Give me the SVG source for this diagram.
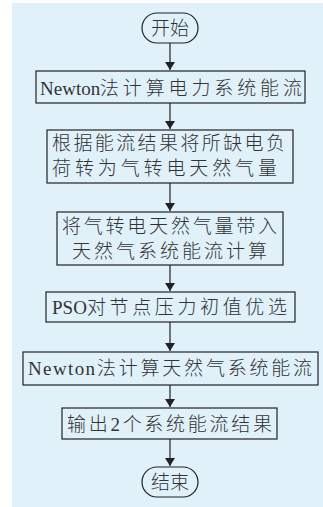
<svg xmlns="http://www.w3.org/2000/svg" width="323" height="507" viewBox="0 0 323 507">
<defs>
<style>
.bg{fill:#e0f1fa}
.box{fill:#e0f1fa;stroke:#222;stroke-width:1.2}
.t{font-family:"Liberation Serif","Noto Sans CJK SC",serif;font-size:19px;font-weight:300;fill:#333;dominant-baseline:central}
.c{text-anchor:middle}
.ln{stroke:#222;stroke-width:1.2;fill:none}
</style>
<marker id="ah" markerWidth="10" markerHeight="14" refX="8" refY="6" orient="auto" markerUnits="userSpaceOnUse" viewBox="0 0 10 12">
<path d="M0,1 L8,6 L0,11 Z" fill="#222"/>
</marker>
</defs>
<rect class="bg" x="12" y="3" width="311" height="504"/>
<g id="connectors">
<line class="ln" x1="170" y1="43" x2="170" y2="70" marker-end="url(#ah)"/>
<line class="ln" x1="170" y1="103" x2="170" y2="129" marker-end="url(#ah)"/>
<line class="ln" x1="170" y1="183" x2="170" y2="211" marker-end="url(#ah)"/>
<line class="ln" x1="170" y1="265" x2="170" y2="291" marker-end="url(#ah)"/>
<line class="ln" x1="170" y1="322" x2="170" y2="351" marker-end="url(#ah)"/>
<line class="ln" x1="170" y1="385" x2="170" y2="407" marker-end="url(#ah)"/>
<line class="ln" x1="170" y1="439" x2="170" y2="466" marker-end="url(#ah)"/>
</g>
<g id="start">
<rect class="box" x="142" y="13" width="56" height="30" rx="15" ry="15"/>
<text class="t c" x="170" y="28">开始</text>
</g>
<g id="n1">
<rect class="box" x="36" y="71" width="269" height="32"/>
<text class="t" x="40" y="88">Newton<tspan x="100" textLength="202" lengthAdjust="spacing">法计算电力系统能流</tspan></text>
</g>
<g id="n2">
<rect class="box" x="47" y="130" width="246" height="53"/>
<text class="t" x="52" y="143" textLength="233" lengthAdjust="spacing">根据能流结果将所缺电负</text>
<text class="t" x="52" y="168" textLength="225" lengthAdjust="spacing">荷转为气转电天然气量</text>
</g>
<g id="n3">
<rect class="box" x="57" y="212" width="226" height="53"/>
<text class="t" x="62" y="226" textLength="215" lengthAdjust="spacing">将气转电天然气量带入</text>
<text class="t" x="72" y="251" textLength="195" lengthAdjust="spacing">天然气系统能流计算</text>
</g>
<g id="n4">
<rect class="box" x="46" y="292" width="249" height="30"/>
<text class="t" x="52" y="307">PSO<tspan x="87" textLength="200" lengthAdjust="spacing">对节点压力初值优选</tspan></text>
</g>
<g id="n5">
<rect class="box" x="23" y="352" width="295" height="33"/>
<text class="t" x="28" y="368"><tspan textLength="67" lengthAdjust="spacing">Newton</tspan><tspan x="97" textLength="215" lengthAdjust="spacing">法计算天然气系统能流</tspan></text>
</g>
<g id="n6">
<rect class="box" x="62" y="408" width="215" height="31"/>
<text class="t" x="67" y="424" textLength="205" lengthAdjust="spacing">输出2个系统能流结果</text>
</g>
<g id="end">
<rect class="box" x="142" y="467" width="56" height="30" rx="15" ry="15"/>
<text class="t c" x="170" y="482">结束</text>
</g>
</svg>
